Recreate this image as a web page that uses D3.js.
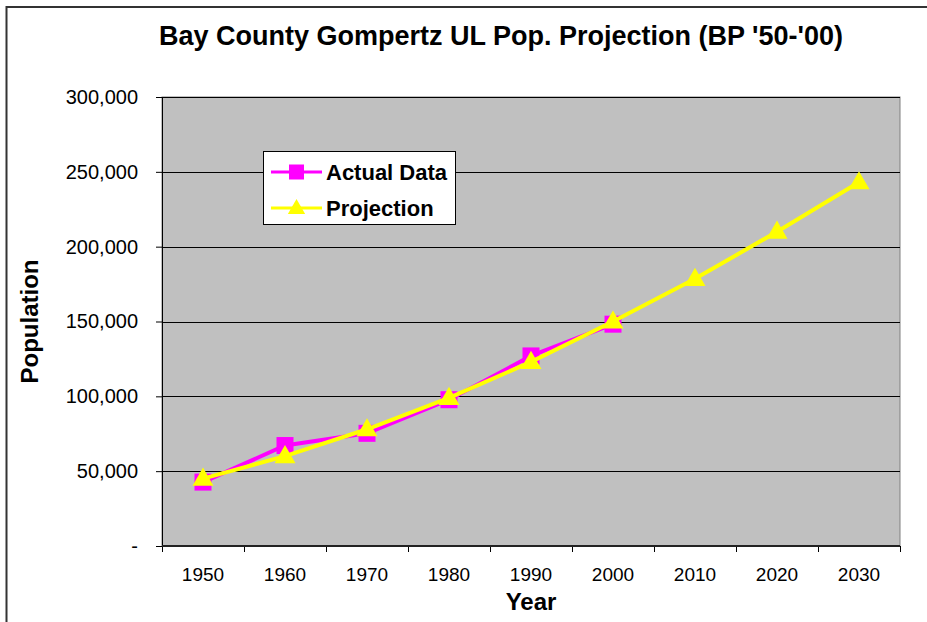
<!DOCTYPE html>
<html lang="en">
<head>
  <meta charset="utf-8">
  <title>Bay County Gompertz UL Pop. Projection</title>
  <script src="https://d3js.org/d3.v7.min.js"></script>
  <style>
    body { margin: 0; background: #fff; }
    svg text { font-family: "Liberation Sans", Arial, sans-serif; fill: #000; }
    .tick text { font-size: 19px; }
    .axis.y .tick text { font-size: 20px; }
    .axis path { display: none; }
  </style>
</head>
<body>
  <div id="chart"></div>

  <script>
    "use strict"

    var anos = ["1950", "1960", "1970", "1980", "1990", "2000", "2010", "2020", "2030"];
    var dadosReais = [42689, 67131, 75283, 97740, 126994, 148217];
    var projecao = [45000, 60000, 78000, 99000, 123000, 150000, 178500, 210000, 243000];
    var ticksY = [0, 50000, 100000, 150000, 200000, 250000, 300000];

    var largura = 927, altura = 622;
    var area = {left: 162, right: 900, top: 97, bottom: 546};

    var svg = d3.select("#chart").append("svg")
      .attr("width", largura)
      .attr("height", altura);

    // moldura externa (cortada a direita e embaixo)
    svg.append("rect")
      .attr("x", 6.5).attr("y", 7)
      .attr("width", largura + 20).attr("height", altura + 20)
      .attr("fill", "#fff")
      .attr("stroke", "#333").attr("stroke-width", 2);

    var x = d3.scaleBand()
      .domain(anos)
      .range([area.left, area.right]);

    var y = d3.scaleLinear()
      .domain([0, 300000])
      .range([area.bottom, area.top]);

    // fundo da area de plotagem
    svg.append("rect")
      .attr("x", area.left).attr("y", area.top)
      .attr("width", area.right - area.left)
      .attr("height", area.bottom - area.top)
      .attr("fill", "#c0c0c0")
      .attr("stroke", "#808080").attr("stroke-width", 1);

    // linhas de grade
    svg.append("g")
      .selectAll("line")
      .data(ticksY.filter(function(d) { return d > 0; }))
      .enter().append("line")
        .attr("x1", area.left).attr("x2", area.right)
        .attr("y1", function(d) { return Math.round(y(d)) + 0.5; })
        .attr("y2", function(d) { return Math.round(y(d)) + 0.5; })
        .attr("stroke", "#000").attr("stroke-width", 1);

    // eixo Y
    var eixoY = svg.append("g")
      .attr("class", "axis y")
      .attr("transform", "translate(" + area.left + ",0)")
      .call(d3.axisLeft(y)
        .tickValues(ticksY)
        .tickSize(6)
        .tickPadding(18)
        .tickFormat(function(d) { return d === 0 ? "-" : d3.format(",")(d); }));
    eixoY.selectAll(".tick line").attr("stroke", "#000");
    svg.append("line")
      .attr("x1", area.left + 0.5).attr("x2", area.left + 0.5)
      .attr("y1", area.top).attr("y2", area.bottom)
      .attr("stroke", "#000").attr("stroke-width", 1);

    // eixo X
    var eixoX = svg.append("g")
      .attr("class", "axis x")
      .attr("transform", "translate(0," + area.bottom + ")")
      .call(d3.axisBottom(x).tickSize(0).tickPadding(22));
    eixoX.selectAll(".tick line").remove();

    var bordas = anos.map(function(d) { return x(d); }).concat([x.range()[1]]);
    svg.append("g")
      .selectAll("line")
      .data(bordas)
      .enter().append("line")
        .attr("x1", function(d) { return Math.round(d) + 0.5; })
        .attr("x2", function(d) { return Math.round(d) + 0.5; })
        .attr("y1", area.bottom).attr("y2", area.bottom + 6)
        .attr("stroke", "#000");
    svg.append("line")
      .attr("x1", area.left).attr("x2", area.right)
      .attr("y1", area.bottom).attr("y2", area.bottom)
      .attr("stroke", "#222").attr("stroke-width", 2);

    var cx = function(d, i) { return x(anos[i]) + x.bandwidth() / 2; };

    // serie real
    var linha = d3.line()
      .x(cx)
      .y(function(d) { return y(d); });

    svg.append("path")
      .datum(dadosReais)
      .attr("d", linha)
      .attr("fill", "none")
      .attr("stroke", "#ff00ff").attr("stroke-width", 4);

    svg.append("g")
      .selectAll("rect")
      .data(dadosReais)
      .enter().append("rect")
        .attr("x", function(d, i) { return cx(d, i) - 8.5; })
        .attr("y", function(d) { return y(d) - 8.5; })
        .attr("width", 17).attr("height", 17)
        .attr("fill", "#ff00ff");

    // projecao
    svg.append("path")
      .datum(projecao)
      .attr("d", linha)
      .attr("fill", "none")
      .attr("stroke", "#ffff00").attr("stroke-width", 4);

    var triangulo = d3.symbol().type(d3.symbolTriangle).size(190);
    svg.append("g")
      .selectAll("path")
      .data(projecao)
      .enter().append("path")
        .attr("d", triangulo)
        .attr("transform", function(d, i) { return "translate(" + cx(d, i) + "," + (y(d) + 1) + ")"; })
        .attr("fill", "#ffff00");

    // legenda
    var leg = svg.append("g").attr("transform", "translate(263,151)");
    leg.append("rect")
      .attr("x", 0.5).attr("y", 0.5)
      .attr("width", 192).attr("height", 73)
      .attr("fill", "#fff").attr("stroke", "#000");

    var itens = [
      {nome: "Actual Data", cor: "#ff00ff", tipo: "q"},
      {nome: "Projection", cor: "#ffff00", tipo: "t"}
    ];
    itens.forEach(function(it, i) {
      var yy = 21 + i * 36;
      leg.append("line")
        .attr("x1", 8).attr("x2", 59)
        .attr("y1", yy).attr("y2", yy)
        .attr("stroke", it.cor).attr("stroke-width", 3);
      if (it.tipo === "q") {
        leg.append("rect")
          .attr("x", 26).attr("y", yy - 7.5)
          .attr("width", 15).attr("height", 15)
          .attr("fill", it.cor);
      } else {
        leg.append("path")
          .attr("d", d3.symbol().type(d3.symbolTriangle).size(130))
          .attr("transform", "translate(33.5," + (yy + 1) + ")")
          .attr("fill", it.cor);
      }
      leg.append("text")
        .attr("x", 63).attr("y", yy)
        .attr("dy", "0.36em")
        .style("font-size", "22px").style("font-weight", "bold")
        .text(it.nome);
    });

    // titulos
    svg.append("text")
      .attr("x", 501).attr("y", 45)
      .attr("text-anchor", "middle")
      .style("font-size", "27px").style("font-weight", "bold")
      .text("Bay County Gompertz UL Pop. Projection (BP '50-'00)");

    svg.append("text")
      .attr("x", 531).attr("y", 610)
      .attr("text-anchor", "middle")
      .style("font-size", "24px").style("font-weight", "bold")
      .text("Year");

    svg.append("text")
      .attr("transform", "translate(38," + ((area.top + area.bottom) / 2) + ") rotate(-90)")
      .attr("text-anchor", "middle")
      .style("font-size", "24px").style("font-weight", "bold")
      .text("Population");
  </script>
</body>
</html>
